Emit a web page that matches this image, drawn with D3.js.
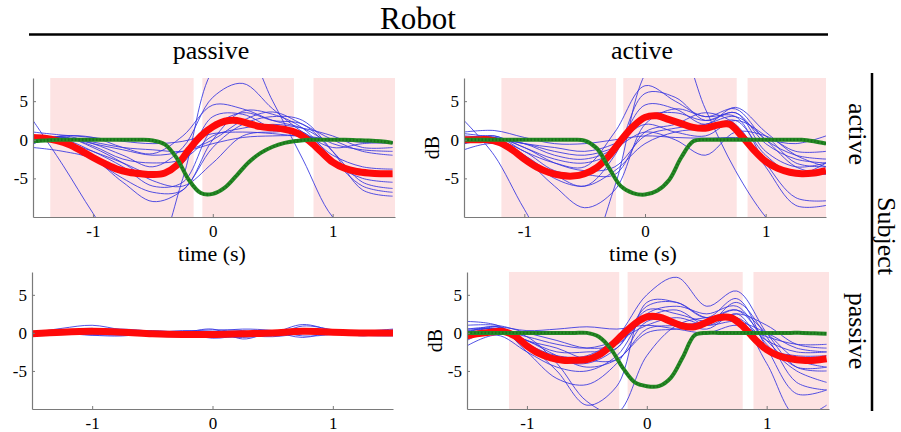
<!DOCTYPE html>
<html><head><meta charset="utf-8">
<script src="https://cdn.jsdelivr.net/npm/d3@7"></script>
<style>
body{margin:0;background:#fff}
svg{display:block}
text{font-family:"Liberation Serif","Times New Roman",serif;fill:#000}
</style>
</head><body><svg id="c" width="901" height="432"></svg>
<script>
// ---------- data ----------
const tFine = [-1.5,-1.4,-1.3,-1.2,-1.1,-1.0,-0.9,-0.8,-0.7,-0.6,-0.5,-0.4,-0.3,-0.2,-0.1,0,0.1,0.2,0.3,0.4,0.5,0.6,0.7,0.8,0.9,1.0,1.1,1.2,1.3,1.4,1.5];
const tCoarse = [-1.5,-1.25,-1.0,-0.75,-0.5,-0.25,0,0.25,0.5,0.75,1.0,1.25,1.5];
const xTicks = [-1, 0, 1];
const yTicks = [-5, 0, 5];
const robotLabel = "Robot";
const subjectLabel = "Subject";
const colLabels = ["passive", "active"];
const rowLabels = ["active", "passive"];
const xTitle = "time (s)";
const yTitle = "dB";

// shaded epochs (s)
const shadeTL = [[-1.356,-0.16],[-0.087,0.677],[0.84,1.52]];
const shadeTR = [[-1.19,-0.24],[-0.18,0.76],[0.85,1.5]];
const shadeBL = [];
const shadeBR = [[-1.15,-0.23],[-0.16,0.80],[0.89,1.52]];

// mean (red) and robot (green) traces, on tFine
const redTL = [0.3,0.2,-0.1,-0.6,-1.4,-2.3,-3.1,-3.8,-4.2,-4.4,-4.5,-4.3,-3.3,-1.3,0.5,1.7,2.4,2.5,2.1,1.7,1.55,1.35,0.9,-0.1,-1.5,-2.9,-3.7,-4.1,-4.3,-4.4,-4.4];
const greenTL = [-0.2,-0.1,0,0,0,0,0,0,0,0,-0.1,-0.6,-2.4,-5.2,-6.9,-7.0,-6.2,-4.6,-2.9,-1.7,-0.9,-0.4,-0.15,0,0,0,0,-0.05,-0.1,-0.2,-0.4];
const redTR = [0,0,0,-0.4,-1.3,-2.5,-3.5,-4.2,-4.6,-4.7,-4.4,-3.6,-2.1,-0.1,1.7,2.9,3.1,2.6,2.1,1.6,1.5,1.9,2.0,0.5,-1.3,-2.8,-3.7,-4.2,-4.4,-4.3,-4.0];
const greenTR = [0,0,0,0,0,0,0,0,0,0,-0.1,-1.1,-3.6,-6.0,-6.9,-7.1,-6.6,-5.2,-2.3,-0.2,0,0,0,0,0,0,0,0,0,-0.2,-0.5];
const redBR = [-0.4,-0.1,0.1,0.2,-0.4,-1.7,-2.7,-3.3,-3.6,-3.6,-3.5,-2.9,-1.7,-0.2,1.2,2.1,2.1,1.5,0.9,0.8,1.4,2.0,2.0,0.9,-0.8,-2.2,-3.0,-3.4,-3.6,-3.6,-3.4];
const greenBR = [0,0,0,0,0,0,0,0,0,0,0,-0.5,-2.1,-4.6,-6.5,-7.0,-7.0,-5.9,-3.2,-0.3,0,0,0,0,0,0,0,0,0,-0.05,-0.1];
// BL mean on tCoarse
const redBL = [-0.1,0.1,0.2,0.1,-0.1,-0.2,-0.2,-0.1,0,0.2,0.1,0.0,0.0];

// individual subjects (blue), on tCoarse
const blueTL = [
  [2.5,-3.3,-9.5,-15,-15,-5,9,12,5,-2.5,-10,-13,-12],
  [1.0,0.6,0.3,-0.2,-0.5,-0.2,0.8,1.0,0.8,0.4,0.0,-0.3,-0.5],
  [-0.5,0.5,0.3,-1.0,-1.8,0.5,4.5,4.0,2.5,1.5,-0.5,-1.3,-1.5],
  [0.2,-0.3,-1.5,-3.0,-4.4,-3.0,3.0,3.3,1.5,1.0,-2.0,-3.5,-3.8],
  [-0.4,0,-1.5,-3.5,-6.0,-5.5,1.5,3.5,2.5,2.0,-1.5,-5.5,-6.3],
  [0.5,-0.5,-2.5,-5.0,-6.8,-6.5,0,3.7,3.3,1.5,-2.5,-6.0,-6.8],
  [-1.0,-1.5,-2.5,-5.5,-8.0,-6.5,-1.0,2.0,3.0,2.5,-1.5,-6.5,-7.3],
  [0.3,0.3,-0.5,-1.3,-2.0,-1.5,0,2.5,3.6,2.0,0,-1.5,-2.0],
  [-0.5,0.5,-0.5,-2.0,-3.5,-1.0,5.5,7.3,4.0,1.0,-1.0,-0.5,-0.3],
  [0,0.3,-0.8,-2.5,-3.0,-2.5,0.5,1.5,2.0,1.5,0.5,-1.0,-1.0],
  [0.5,0.2,-0.3,-1.0,-1.3,-1.5,-0.5,0.3,0.5,0.5,0,-0.3,-0.3],
  [-0.2,0.4,-1.0,-3.0,-5.3,-6.0,-3.0,0.5,1.0,0.8,-3.0,-5.0,-5.5]
];
const blueTR = [
  [2.5,-2.0,-9.0,-15,-15,-6,8.5,13,4,-4,-10,-14,-13],
  [1.0,1.2,0.3,-0.5,-0.5,0,0.5,0.3,0.2,0.3,0,-0.5,0.5],
  [-0.5,0.5,-1.5,-3.0,-3.5,1.0,7.0,5.0,3.0,4.0,0,-2.0,-2.5],
  [0.3,0,-2.0,-4.5,-6.0,-2.0,6.0,5.5,2.5,3.5,-1.5,-3.5,-3.0],
  [-1.3,-0.5,-2.5,-6.0,-8.8,-6.5,2.0,4.0,3.0,3.0,-3.0,-7.5,-7.9],
  [0.2,0.5,-1.0,-2.5,-3.0,-1.5,3.0,3.5,2.5,3.5,-0.5,-2.5,-3.0],
  [-0.3,0,-1.5,-4.0,-4.5,-4.5,1.0,2.0,3.5,2.0,-3.5,-8.5,-8.5],
  [0.5,0.2,-0.5,-2.0,-2.5,-1.0,4.5,4.0,2.0,4.2,1.0,-2.0,-3.5],
  [0,0.3,-1.0,-3.0,-4.0,-3.5,0.5,1.5,2.0,3.0,0,-3.5,-4.5],
  [-0.5,0,-0.5,-1.5,-2.0,-1.0,1.0,0,-2.0,1.0,0.5,-1.5,-1.5],
  [0.8,0.3,-0.5,-1.0,-1.5,-0.5,2.0,1.0,0.5,2.5,0.5,-3.0,-3.5],
  [-0.5,0.3,-2.0,-5.0,-6.0,-4.0,-0.5,1.0,1.5,2.5,-2.0,-4.5,-3.0]
];
const blueBL = [
  [0,0.6,1.0,0.4,0,-0.3,-0.1,0.2,0.1,0.2,0.1,0.3,0.3],
  [-0.2,0.3,0.4,0.5,0.2,-0.2,-0.4,-0.6,-0.2,0.3,0.3,0.2,0.1],
  [0.2,0,-0.3,0,0.3,0,-0.7,-0.3,0,1.1,0.3,-0.3,-0.4],
  [0,0.2,-0.2,-0.3,-0.2,0,0.5,-0.8,0,-0.6,0.1,0.2,0],
  [0.1,0,0.2,0.2,-0.4,-0.5,-0.4,0.1,0.2,0.5,-0.1,-0.2,-0.2],
  [-0.1,0.2,0.6,-0.2,0,0.2,0.4,0.3,-0.3,0.9,0.4,-0.4,0.4],
  [0.2,-0.2,0,0.3,0.2,-0.1,0.1,-0.3,-0.5,-0.1,0,0.2,0.5],
  [0,0.1,-0.3,-0.4,0,0.3,0.2,0.5,0.3,-0.4,-0.2,0.3,0]
];
const blueBR = [
  [1.5,1.0,-1.5,-5.0,-9.5,-7.0,4.0,4.0,2.0,4.5,-2.0,-8.0,-7.5],
  [0.5,0.8,0.3,0.5,0.8,0.5,1.0,0.5,0.0,1.0,-0.5,-1.5,-1.5],
  [-0.5,0.3,-1.5,-3.0,-3.0,-0.5,5.0,7.3,3.5,5.5,0,-4.5,-5.0],
  [-1.0,0.5,-1.0,-2.5,-2.5,-2.0,3.5,4.0,2.0,3.0,-1.0,-4.5,-4.5],
  [-1.7,-0.3,-2.5,-4.5,-5.0,-3.0,2.5,3.5,2.5,3.5,-1.5,-5.0,-6.5],
  [0.2,0.5,-1.5,-3.5,-4.0,-2.0,3.0,2.5,1.5,2.0,-1.0,-2.5,-2.5],
  [0.0,0.8,-2.5,-6.0,-6.8,-4.0,1.5,1.5,0.5,2.5,-2.0,-3.0,-3.0],
  [1.0,1.0,0,-1.0,-2.0,-1.5,2.0,3.0,1.0,2.5,1.0,-1.5,-2.0],
  [-0.3,0.8,-1.0,-2.0,-3.5,-3.5,0.5,1.0,1.5,3.0,0,-3.5,-4.5],
  [0.5,0.5,-0.5,-4.0,-9.0,-10.5,-3.0,1.0,2.0,2.0,-4.0,-11,-9.5],
  [-0.5,0.3,-0.5,-1.5,-2.0,-1.0,1.0,2.0,1.0,1.5,0,-2.0,-2.5],
  [0.3,0.5,-1.0,-3.0,-4.5,-3.5,0,0.5,1.0,4.0,-0.5,-6.5,-7.5]
];

// ---------- layout ----------
const svg = d3.select("#c");
const FONT = '"Liberation Serif","Times New Roman",serif';
const panels = [
  {id:"tl", x0:33, x1:395, y0:78, y1:217, xd:[-1.5,1.52], shade:shadeTL, blue:blueTL, red:redTL, redT:tFine, green:greenTL, dB:false, time:true},
  {id:"tr", x0:464, x1:826, y0:78, y1:217, xd:[-1.5,1.5], shade:shadeTR, blue:blueTR, red:redTR, redT:tFine, green:greenTR, dB:true, time:true},
  {id:"bl", x0:32, x1:393, y0:272, y1:409, xd:[-1.5,1.5], shade:shadeBL, blue:blueBL, red:redBL, redT:tCoarse, green:null, dB:false, time:false},
  {id:"br", x0:467, x1:829, y0:272, y1:409, xd:[-1.5,1.52], shade:shadeBR, blue:blueBR, red:redBR, redT:tFine, green:greenBR, dB:true, time:false}
];
const yDomain = [-10, 8];
const defs = svg.append("defs");

panels.forEach(p => {
  const x = d3.scaleLinear().domain(p.xd).range([p.x0, p.x1]);
  const y = d3.scaleLinear().domain(yDomain).range([p.y1, p.y0]);
  defs.append("clipPath").attr("id", "clip-" + p.id)
    .append("rect").attr("x", p.x0).attr("y", p.y0).attr("width", p.x1 - p.x0).attr("height", p.y1 - p.y0);
  const g = svg.append("g");
  // shading
  g.selectAll("rect.sh").data(p.shade).join("rect")
    .attr("x", d => x(d[0])).attr("width", d => x(d[1]) - x(d[0]))
    .attr("y", p.y0).attr("height", p.y1 - p.y0)
    .attr("fill", "#fde3e3");
  const pg = g.append("g").attr("clip-path", "url(#clip-" + p.id + ")");
  const line = tt => d3.line().x((d, i) => x(tt[i])).y(d => y(d)).curve(d3.curveCatmullRom.alpha(0.5));
  pg.selectAll("path.blue").data(p.blue).join("path")
    .attr("d", d => line(tCoarse)(d))
    .attr("fill", "none").attr("stroke", "#3535e0").attr("stroke-width", 1).attr("stroke-opacity", 0.85);
  pg.append("path").attr("d", line(p.redT)(p.red))
    .attr("fill", "none").attr("stroke", "#ff0a0a").attr("stroke-width", 7).attr("stroke-linejoin", "round");
  if (p.green) {
    pg.append("path").attr("d", line(tFine)(p.green))
      .attr("fill", "none").attr("stroke", "#258a25").attr("stroke-width", 4);
    pg.append("path").attr("d", line(tFine)(p.green))
      .attr("fill", "none").attr("stroke", "#1b6f1b").attr("stroke-width", 2.4)
      .attr("stroke-dasharray", "1.5,2");
  }
  // axes
  const ax = g.append("g").attr("transform", `translate(0,${p.y1})`)
    .call(d3.axisBottom(x).tickValues(xTicks).tickSizeInner(-3).tickSizeOuter(0).tickPadding(8).tickFormat(d3.format("d")));
  const ay = g.append("g").attr("transform", `translate(${p.x0},0)`)
    .call(d3.axisLeft(y).tickValues(yTicks).tickSizeInner(-3).tickSizeOuter(0).tickPadding(5).tickFormat(d3.format("d")));
  [ax, ay].forEach(a => {
    a.select(".domain").attr("stroke", "#7a7a7a").attr("stroke-width", 1.2);
    a.selectAll(".tick line").attr("stroke", "#7a7a7a");
    a.selectAll(".tick text").attr("font-family", FONT).attr("font-size", 17).attr("fill", "#000");
  });
  ax.selectAll(".tick text").text(d => d < 0 ? "-" + Math.abs(d) : d);
  ay.selectAll(".tick text").text(d => d < 0 ? "-" + Math.abs(d) : d);
  if (p.time) {
    g.append("text").attr("x", (p.x0 + p.x1) / 2 - 2).attr("y", p.y1 + 44)
      .attr("text-anchor", "middle").attr("font-size", 22).text(xTitle);
  }
  if (p.dB) {
    const cy = (p.y0 + p.y1) / 2;
    g.append("text").attr("transform", `translate(${p.x0 - 25},${cy}) rotate(-90)`)
      .attr("text-anchor", "middle").attr("font-size", 20).text(yTitle);
  }
});

// header
svg.append("text").attr("x", 418).attr("y", 29).attr("text-anchor", "middle")
  .attr("font-size", 31).text(robotLabel);
svg.append("line").attr("x1", 29).attr("x2", 828).attr("y1", 34.5).attr("y2", 34.5)
  .attr("stroke", "#000").attr("stroke-width", 2.5);
svg.append("text").attr("x", 211).attr("y", 59).attr("text-anchor", "middle")
  .attr("font-size", 26).text(colLabels[0]);
svg.append("text").attr("x", 642).attr("y", 59).attr("text-anchor", "middle")
  .attr("font-size", 26).text(colLabels[1]);

// right side
svg.append("line").attr("x1", 872).attr("x2", 872).attr("y1", 73).attr("y2", 411)
  .attr("stroke", "#000").attr("stroke-width", 2.5);
svg.append("text").attr("transform", "translate(849,134) rotate(90)").attr("text-anchor", "middle")
  .attr("font-size", 26).text(rowLabels[0]);
svg.append("text").attr("transform", "translate(878,236) rotate(90)").attr("text-anchor", "middle")
  .attr("font-size", 26).text(subjectLabel);
svg.append("text").attr("transform", "translate(849,331) rotate(90)").attr("text-anchor", "middle")
  .attr("font-size", 26).text(rowLabels[1]);
</script>
</body></html>
